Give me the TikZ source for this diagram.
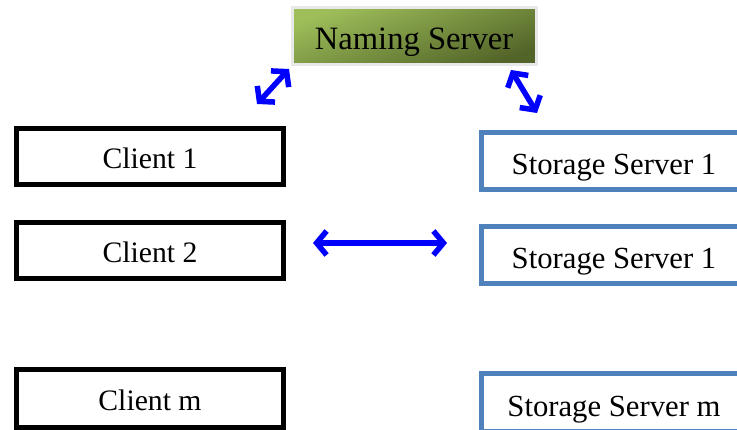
\documentclass[tikz,border=0pt]{standalone}
\usepackage{fontspec}
\setmainfont{Liberation Serif}
\usetikzlibrary{arrows.meta}
\definecolor{boxblue}{RGB}{79,129,189}
\definecolor{arrowblue}{RGB}{0,0,255}
\definecolor{greenlight}{RGB}{158,190,90}
\definecolor{greendark}{RGB}{82,100,40}
\definecolor{rimgray}{RGB}{232,232,232}
\tikzset{
  client/.style={draw=black, line width=5pt, minimum width=267pt, minimum height=56pt,
    inner sep=0pt, text height=25pt, text depth=1pt, font=\fontsize{29.7}{32}\selectfont},
  storage/.style={draw=boxblue, line width=5pt, anchor=west, minimum width=265pt,
    minimum height=57pt, inner sep=0pt, text height=27pt, text depth=0pt,
    font=\fontsize{30.7}{33}\selectfont},
  namer/.style={draw=rimgray, line width=3pt, minimum width=244pt, minimum height=57pt,
    inner sep=0pt, shading=axis, top color=greenlight, bottom color=greendark,
    shading angle=20, text height=28pt, text depth=0pt,
    font=\fontsize{32.6}{35}\selectfont},
  link/.style={draw=arrowblue, line width=5.5pt,
    {Straight Barb[length=10pt,width=24pt,line width=5.5pt]}-{Straight Barb[length=10pt,width=24pt,line width=5.5pt]}}
}
\begin{document}
\begin{tikzpicture}[x=1pt, y=-1pt]
  \useasboundingbox (0,0) rectangle (737,430);
  \clip (0,0) rectangle (737,430);

  % naming server
  \node[namer] (ns) at (414,36) {Naming Server};

  % clients
  \node[client] (c1) at (150,157) {Client 1};
  \node[client] (c2) at (150,251) {Client 2};
  \node[client, minimum height=58pt] (cm) at (150,399) {Client m};

  % storage servers (right edge runs past the page)
  \node[storage] (s1) at (479,161) {Storage Server 1};
  \node[storage] (s2) at (479,255) {Storage Server 1};
  \node[storage, minimum height=58pt] (sm) at (479,403) {Storage Server m};

  % connector end points
  \coordinate (nl) at (289,69);
  \coordinate (cl) at (257,104);
  \coordinate (nr) at (511,70);
  \coordinate (sr) at (537,113);
  \coordinate (ca) at (313,243);
  \coordinate (sa) at (447,243);

  \draw[link] (cl) -- (nl);
  \draw[link] (nr) -- (sr);
  \draw[link] (ca) -- (sa);
\end{tikzpicture}
\end{document}
